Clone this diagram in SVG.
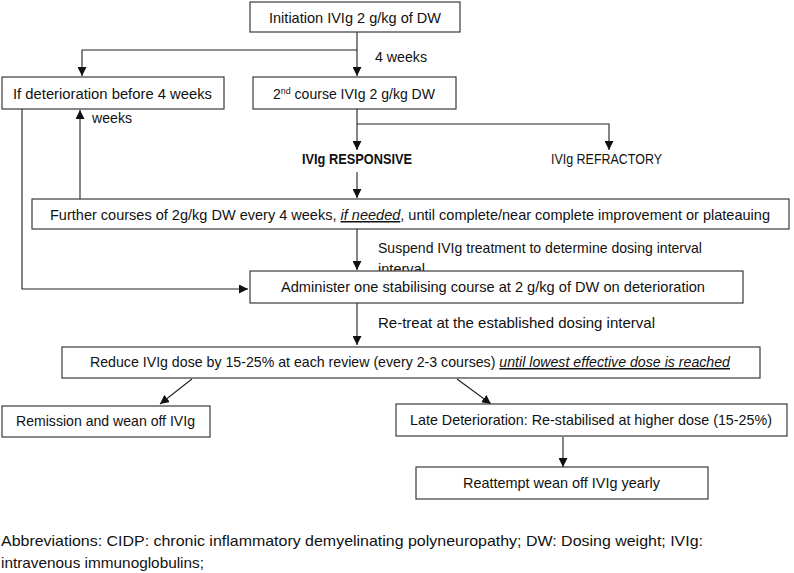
<svg xmlns="http://www.w3.org/2000/svg" width="794" height="573" viewBox="0 0 794 573">
<style>
.box{fill:#fff;stroke:#3a3a3a;stroke-width:1.2}
.t{font-family:"Liberation Sans",Arial,sans-serif;font-size:15px;fill:#111}
.ln{fill:none;stroke:#222;stroke-width:1.1}
</style>
<defs>
<marker id="ah" viewBox="0 0 10 10" refX="10" refY="5" markerWidth="9" markerHeight="9" markerUnits="userSpaceOnUse" orient="auto">
<path d="M0,0 L10,5 L0,10 z" fill="#111"/>
</marker>
</defs>
<rect width="794" height="573" fill="#fff"/>

<g id="labels">
<text class="t" x="375" y="62" textLength="52" lengthAdjust="spacingAndGlyphs">4 weeks</text>
<text class="t" x="92" y="123" textLength="40" lengthAdjust="spacingAndGlyphs">weeks</text>
<text class="t" x="378" y="253" textLength="324" lengthAdjust="spacingAndGlyphs">Suspend IVIg treatment to determine dosing interval</text>
<text class="t" x="378" y="274" textLength="47" lengthAdjust="spacingAndGlyphs">interval</text>
<text class="t" x="378" y="328" textLength="277" lengthAdjust="spacingAndGlyphs">Re-treat at the established dosing interval</text>
</g>

<g id="connectors">
<path class="ln" d="M357,32 V76" marker-end="url(#ah)"/>
<path class="ln" d="M357,50 H82 V76" marker-end="url(#ah)"/>
<path class="ln" d="M357,109 V150" marker-end="url(#ah)"/>
<path class="ln" d="M357,124 H609 V150" marker-end="url(#ah)"/>
<path class="ln" d="M357,172 V198" marker-end="url(#ah)"/>
<path class="ln" d="M80,199 V110" marker-end="url(#ah)"/>
<path class="ln" d="M22,109 V289 H248" marker-end="url(#ah)"/>
<path class="ln" d="M357,229 V270" marker-end="url(#ah)"/>
<path class="ln" d="M357,303 V345" marker-end="url(#ah)"/>
<path class="ln" d="M192,379 L160,404" marker-end="url(#ah)"/>
<path class="ln" d="M457,379 L491,404" marker-end="url(#ah)"/>
<path class="ln" d="M563,437 V467" marker-end="url(#ah)"/>
</g>

<g id="n-initiation">
<rect class="box" x="250" y="2" width="210" height="30"/>
<text class="t" x="269" y="23" textLength="172" lengthAdjust="spacingAndGlyphs">Initiation IVIg 2 g/kg of DW</text>
</g>
<g id="n-deterioration">
<rect class="box" x="2" y="77" width="222" height="32"/>
<text class="t" x="13" y="99" textLength="199" lengthAdjust="spacingAndGlyphs">If deterioration before 4 weeks</text>
</g>
<g id="n-second">
<rect class="box" x="253" y="77" width="203" height="32"/>
<text class="t" x="273" y="99" textLength="162" lengthAdjust="spacingAndGlyphs">2<tspan font-size="9.5" dy="-5">nd</tspan><tspan dy="5"> course IVIg 2 g/kg DW</tspan></text>
</g>
<g id="n-responsive">
<text class="t" x="302" y="164" font-weight="bold" textLength="110" lengthAdjust="spacingAndGlyphs">IVIg RESPONSIVE</text>
</g>
<g id="n-refractory">
<text class="t" x="551" y="164" textLength="111" lengthAdjust="spacingAndGlyphs">IVIg REFRACTORY</text>
</g>
<g id="n-further">
<rect class="box" x="32" y="199" width="757" height="30"/>
<text class="t" x="50" y="220" textLength="720" lengthAdjust="spacingAndGlyphs">Further courses of 2g/kg DW every 4 weeks, <tspan font-style="italic" text-decoration="underline">if needed</tspan>, until complete/near complete improvement or plateauing</text>
</g>
<g id="n-administer">
<rect class="box" x="250" y="271" width="493" height="32"/>
<text class="t" x="281" y="292" textLength="424" lengthAdjust="spacingAndGlyphs">Administer one stabilising course at 2 g/kg of DW on deterioration</text>
</g>
<g id="n-reduce">
<rect class="box" x="62" y="347" width="698" height="31"/>
<text class="t" x="90" y="367" textLength="640" lengthAdjust="spacingAndGlyphs">Reduce IVIg dose by 15-25% at each review (every 2-3 courses) <tspan font-style="italic" text-decoration="underline">until lowest effective dose is reached</tspan></text>
</g>
<g id="n-remission">
<rect class="box" x="2" y="406" width="208" height="31"/>
<text class="t" x="16" y="426" textLength="179" lengthAdjust="spacingAndGlyphs">Remission and wean off IVIg</text>
</g>
<g id="n-late">
<rect class="box" x="396" y="404" width="391" height="32"/>
<text class="t" x="410" y="425" textLength="362" lengthAdjust="spacingAndGlyphs">Late Deterioration: Re-stabilised at higher dose (15-25%)</text>
</g>
<g id="n-reattempt">
<rect class="box" x="416" y="467" width="292" height="32"/>
<text class="t" x="463" y="488" textLength="197" lengthAdjust="spacingAndGlyphs">Reattempt wean off IVIg yearly</text>
</g>
<g id="abbrev">
<text class="t" x="1" y="546" font-size="16.5" textLength="702" lengthAdjust="spacingAndGlyphs">Abbreviations: CIDP: chronic inflammatory demyelinating polyneuropathy; DW: Dosing weight; IVIg:</text>
<text class="t" x="1" y="568" font-size="16.5" textLength="203" lengthAdjust="spacingAndGlyphs">intravenous immunoglobulins;</text>
</g>
</svg>
